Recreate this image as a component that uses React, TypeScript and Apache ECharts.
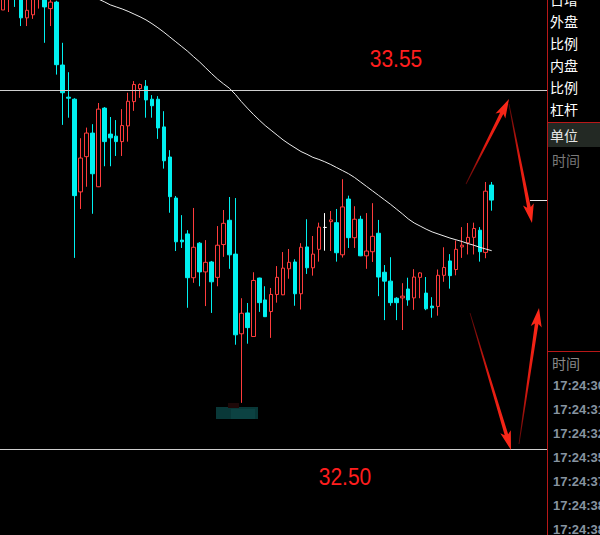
import React, { useEffect, useRef } from "react";
import * as echarts from "echarts";

// OHLC values, oldest first (the first candle is partly cut off at the left edge)
const opens = [
  33.784, 33.819, 33.857, 33.828, 33.761, 33.770, 33.819, 33.831, 33.788, 33.807,
  33.623, 33.529, 33.523, 33.252, 33.355, 33.424, 33.267, 33.497, 33.421, 33.415,
  33.399, 33.445, 33.516, 33.554, 33.561, 33.523, 33.523, 33.442, 33.354, 33.234,
  33.111, 33.129, 33.001, 33.102, 33.018, 33.047, 33.002, 33.098, 33.169, 33.070,
  32.837, 32.898, 32.829, 33.000, 32.936, 32.902, 32.952, 32.951, 33.027, 33.047,
  32.954, 33.091, 33.030, 33.084, 33.148, 33.165, 33.162, 33.068, 33.231, 33.118,
  33.172, 33.065, 33.077, 33.131, 33.017, 32.991, 32.941, 32.942, 32.968, 32.942,
  33.002, 32.956, 32.918, 32.917, 33.008, 33.050, 33.025, 33.091, 33.103, 33.119,
  33.140, 33.075, 33.272,
];
const closes = [
  33.819, 33.857, 33.822, 33.761, 33.783, 33.822, 33.848, 33.793, 33.807, 33.624,
  33.542, 33.526, 33.241, 33.351, 33.424, 33.305, 33.494, 33.399, 33.410, 33.399,
  33.446, 33.517, 33.566, 33.566, 33.521, 33.504, 33.439, 33.343, 33.238, 33.106,
  33.106, 33.001, 33.090, 33.018, 33.046, 32.989, 33.096, 33.160, 33.068, 32.834,
  32.897, 32.855, 32.993, 32.928, 32.887, 32.952, 33.002, 33.029, 33.046, 32.954,
  33.090, 33.030, 33.070, 33.149, 33.148, 33.170, 33.074, 33.208, 33.118, 33.172,
  33.065, 33.079, 33.122, 33.003, 32.991, 32.928, 32.928, 32.947, 32.936, 33.003,
  33.015, 32.910, 32.913, 33.008, 33.031, 33.007, 33.084, 33.096, 33.119, 33.145,
  33.077, 33.254, 33.228,
];
const lows = [
  33.784, 33.778, 33.793, 33.737, 33.737, 33.758, 33.788, 33.688, 33.737, 33.595,
  33.448, 33.469, 33.059, 33.202, 33.267, 33.188, 33.266, 33.327, 33.327, 33.357,
  33.357, 33.399, 33.489, 33.527, 33.469, 33.469, 33.407, 33.320, 33.191, 33.079,
  33.088, 32.913, 32.986, 32.976, 32.918, 32.898, 32.976, 33.062, 33.027, 32.805,
  32.635, 32.808, 32.829, 32.901, 32.886, 32.825, 32.928, 32.950, 32.998, 32.919,
  32.908, 33.012, 33.007, 33.048, 33.080, 33.079, 33.048, 33.060, 33.088, 33.088,
  33.064, 33.027, 33.047, 32.947, 32.877, 32.919, 32.877, 32.848, 32.919, 32.907,
  32.941, 32.906, 32.884, 32.890, 32.989, 32.969, 33.008, 33.059, 33.069, 33.069,
  33.048, 33.058, 33.197,
];
const highs = [
  33.831, 33.872, 33.872, 33.842, 33.819, 33.836, 33.860, 33.842, 33.822, 33.811,
  33.688, 33.602, 33.526, 33.409, 33.440, 33.450, 33.512, 33.500, 33.471, 33.462,
  33.494, 33.542, 33.576, 33.569, 33.579, 33.535, 33.532, 33.488, 33.374, 33.240,
  33.184, 33.140, 33.205, 33.105, 33.111, 33.050, 33.152, 33.199, 33.237, 33.234,
  32.941, 32.927, 33.017, 33.001, 32.976, 32.971, 33.035, 33.076, 33.085, 33.055,
  33.102, 33.172, 33.123, 33.162, 33.190, 33.196, 33.202, 33.289, 33.241, 33.210,
  33.182, 33.190, 33.219, 33.170, 33.038, 33.061, 32.944, 32.985, 33.001, 33.026,
  33.017, 33.003, 32.944, 33.025, 33.090, 33.070, 33.110, 33.149, 33.161, 33.162,
  33.149, 33.281, 33.281,
];
// moving average (white line); it enters the view from above
const maValues = [
  null, null, null, null, null, null, null, null, null, null, null, null, null,
  33.842, 33.833, 33.825, 33.816, 33.808, 33.799, 33.793, 33.787, 33.780, 33.772,
  33.764, 33.755, 33.744, 33.732, 33.719, 33.705, 33.691, 33.677, 33.663, 33.647,
  33.632, 33.615, 33.598, 33.582, 33.568, 33.555, 33.537, 33.516, 33.497, 33.479,
  33.462, 33.446, 33.432, 33.418, 33.404, 33.392, 33.381, 33.370, 33.362, 33.353,
  33.347, 33.340, 33.332, 33.323, 33.314, 33.305, 33.294, 33.281, 33.268, 33.255,
  33.242, 33.229, 33.216, 33.202, 33.188, 33.173, 33.161, 33.152, 33.143, 33.135,
  33.129, 33.123, 33.117, 33.112, 33.107, 33.101, 33.096, 33.090, 33.085, 33.080,
];
const slotCount = 92; // candle slots incl. empty space on the right
const refLevels = [33.55, 32.5];
const refLabels = ["33.55", "32.50"];
const sideLabelsTop = ["日增", "外盘", "比例", "内盘", "比例", "杠杆"];
const tradeTimes = ["17:24:30", "17:24:31", "17:24:32", "17:24:35", "17:24:37", "17:24:38", "17:24:38"];

const UP = "#ff3c3c";
const DOWN = "#00f0f0";
const CJK = "'Noto Sans CJK SC', sans-serif";

function arrow(tail: number[], tip: number[]) {
  const dx = tip[0] - tail[0];
  const dy = tip[1] - tail[1];
  const len = Math.hypot(dx, dy);
  const ux = dx / len, uy = dy / len;
  const px = -uy, py = ux;
  const headLen = 16, headW = 5.5, shaftW = 1.8, tailW = 0.4;
  const bx = tip[0] - ux * headLen, by = tip[1] - uy * headLen;
  const pts = [
    [tail[0] + px * tailW, tail[1] + py * tailW],
    [bx + px * shaftW, by + py * shaftW],
    [bx + px * headW - ux * 3, by + py * headW - uy * 3],
    [tip[0], tip[1]],
    [bx - px * headW - ux * 3, by - py * headW - uy * 3],
    [bx - px * shaftW, by - py * shaftW],
    [tail[0] - px * tailW, tail[1] - py * tailW],
  ];
  return {
    type: "polygon",
    z: 20,
    shape: { points: pts },
    style: {
      fill: {
        type: "linear", global: true,
        x: tail[0], y: tail[1], x2: tip[0], y2: tip[1],
        colorStops: [
          { offset: 0, color: "#5a0808" },
          { offset: 0.45, color: "#e01a10" },
          { offset: 1, color: "#ff2a1a" },
        ],
      },
    },
  };
}

export default function App() {
  const ref = useRef<HTMLDivElement>(null);
  useEffect(() => {
    document.body.style.margin = "0";
    document.body.style.background = "#000";
    const chart = echarts.init(ref.current!, null, { renderer: "svg" });
    const categories = Array.from({ length: slotCount }, (_, i) => String(i));
    const candles = opens.map((o, i) => [o, closes[i], lows[i], highs[i]]);
    chart.setOption({
      animation: false,
      backgroundColor: "#000",
      grid: { left: -3.7, right: 51.7, top: 0, bottom: 0, containLabel: false },
      xAxis: { type: "category", data: categories, boundaryGap: true, show: false },
      yAxis: { type: "value", min: 32.2485, max: 33.8132, show: false, splitLine: { show: false } },
      series: [
        {
          type: "candlestick",
          data: candles,
          barWidth: 4,
          clip: true,
          itemStyle: {
            color: "#000",
            color0: DOWN,
            borderColor: UP,
            borderColor0: DOWN,
            borderColorDoji: "#ffffff",
            borderWidth: 1,
          },
          markLine: {
            silent: true,
            symbol: ["none", "none"],
            label: { show: false },
            lineStyle: { color: "#cfcfcf", width: 1, type: "solid" },
            data: refLevels.map((v) => ({ yAxis: v })),
          },
        },
        {
          type: "line",
          data: maValues,
          symbol: "none",
          showSymbol: false,
          lineStyle: { color: "#ececec", width: 1 },
          z: 5,
        },
      ],
    });

    const lastY = chart.convertToPixel({ yAxisIndex: 0 } as any, closes[closes.length - 1]) as number;
    const y1 = chart.convertToPixel({ yAxisIndex: 0 } as any, refLevels[0]) as number;
    const y2 = chart.convertToPixel({ yAxisIndex: 0 } as any, refLevels[1]) as number;

    const elements: any[] = [
      { type: "rect", z: 10, shape: { x: 547, y: 0, width: 53, height: 535 }, style: { fill: "#000" } },
      { type: "rect", z: 11, shape: { x: 548, y: 123, width: 52, height: 24 }, style: { fill: "#232924" } },
      { type: "line", z: 12, shape: { x1: 547.5, y1: 0, x2: 547.5, y2: 535 }, style: { stroke: "#b81818", lineWidth: 1 } },
      { type: "line", z: 12, shape: { x1: 547, y1: 122.5, x2: 600, y2: 122.5 }, style: { stroke: "#b81818", lineWidth: 1 } },
      { type: "line", z: 12, shape: { x1: 547, y1: 351.5, x2: 600, y2: 351.5 }, style: { stroke: "#b81818", lineWidth: 1 } },
      { type: "line", z: 12, shape: { x1: 530, y1: Math.round(lastY) + 0.5, x2: 547, y2: Math.round(lastY) + 0.5 }, style: { stroke: "#e8e8e8", lineWidth: 1 } },
      { type: "line", z: 12, shape: { x1: 540, y1: Math.round(y1) + 0.5, x2: 547, y2: Math.round(y1) + 0.5 }, style: { stroke: "#cfcfcf", lineWidth: 1 } },
      { type: "line", z: 12, shape: { x1: 540, y1: Math.round(y2) + 0.5, x2: 547, y2: Math.round(y2) + 0.5 }, style: { stroke: "#cfcfcf", lineWidth: 1 } },
      { type: "rect", z: 3, shape: { x: 216, y: 407, width: 42, height: 12 }, style: { fill: "#093838" } },
      { type: "rect", z: 3, shape: { x: 231, y: 409, width: 24, height: 10 }, style: { fill: "#0c4242" } },
      { type: "rect", z: 3, shape: { x: 228, y: 403, width: 11, height: 5 }, style: { fill: "#1e0808" } },
      {
        type: "text", z: 15, x: 396, y: 59, scaleY: 1.12,
        style: { text: refLabels[0], fill: "#ff1e1e", font: "21px 'Liberation Sans', Arial, sans-serif", align: "center", verticalAlign: "middle" },
      },
      {
        type: "text", z: 15, x: 345, y: 477, scaleY: 1.12,
        style: { text: refLabels[1], fill: "#ff1e1e", font: "21px 'Liberation Sans', Arial, sans-serif", align: "center", verticalAlign: "middle" },
      },
      arrow([466, 184], [509, 99]),
      arrow([509, 104], [532, 223]),
      arrow([470, 313], [511, 450]),
      arrow([519, 444], [539, 308]),
    ];
    sideLabelsTop.forEach((t, i) => {
      elements.push({
        type: "text", z: 15, x: 550, y: -1 + i * 22,
        style: { text: t, fill: "#ffffff", font: `14px ${CJK}`, verticalAlign: "middle" },
      });
    });
    elements.push({ type: "text", z: 15, x: 550, y: 134.5, style: { text: "单位", fill: "#e6e6e6", font: `14px ${CJK}`, verticalAlign: "middle" } });
    elements.push({ type: "text", z: 15, x: 552, y: 160, style: { text: "时间", fill: "#7a7a7a", font: `14px ${CJK}`, verticalAlign: "middle" } });
    elements.push({ type: "text", z: 15, x: 552, y: 363, style: { text: "时间", fill: "#8a8a8a", font: `14px ${CJK}`, verticalAlign: "middle" } });
    tradeTimes.forEach((t, i) => {
      elements.push({
        type: "text", z: 15, x: 553, y: 385 + i * 24,
        style: { text: t, fill: "#8794a0", font: "bold 13px 'Liberation Sans', Arial, sans-serif", verticalAlign: "middle" },
      });
    });
    chart.setOption({ graphic: { elements } });
    return () => chart.dispose();
  }, []);
  return <div ref={ref} style={{ width: 600, height: 535, background: "#000" }} />;
}
